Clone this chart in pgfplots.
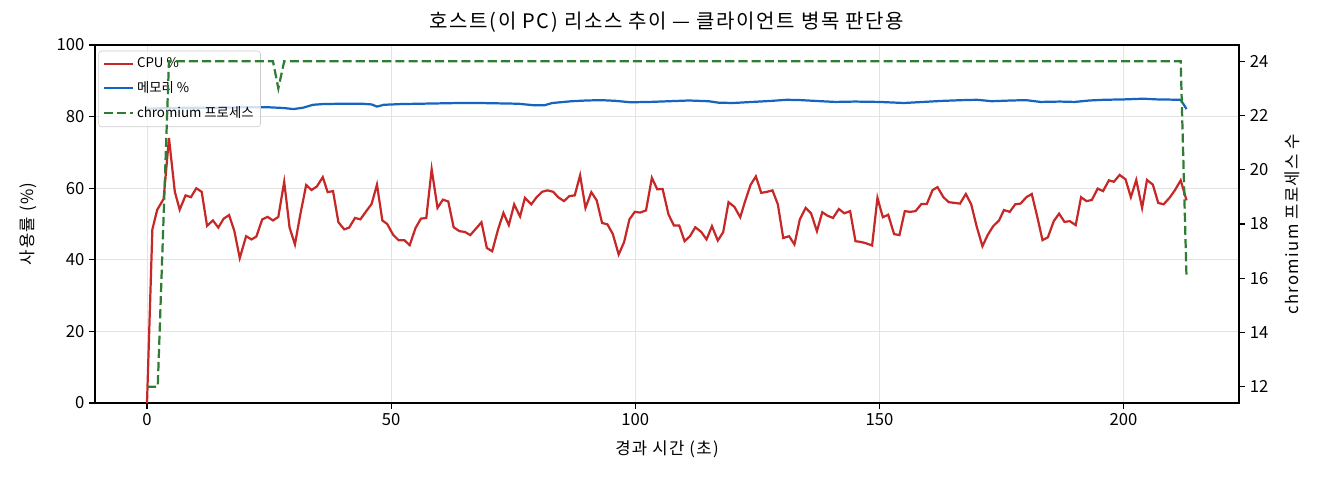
\documentclass[border=0pt]{standalone}
\usepackage{fontspec}
\setmainfont{Noto Sans CJK KR}
\usepackage{pgfplots}
\pgfplotsset{compat=1.18}

\definecolor{cpured}{HTML}{C62828}
\definecolor{memblue}{HTML}{1565C0}
\definecolor{procgreen}{HTML}{2E7D32}

\newcommand\wide{\addfontfeature{LetterSpace=8}}

% 1 px of the reference = 0.72pt ; axis box 1144 x 358 px
\pgfplotsset{
  base/.style={
    scale only axis,
    width=823.7pt, height=257.8pt,
    xmin=-10.65, xmax=223.65,
    tick align=outside,
    major tick length=4.2pt,
    axis line style={line width=0.9pt},
    every tick/.style={line width=0.9pt, black},
    /pgf/number format/assume math mode=true,
    tick label style={font=\fontsize{12}{14}\selectfont},
    label style={font=\fontsize{12}{14}\selectfont\wide},
  }
}

\begin{document}
\begin{tikzpicture}
\useasboundingbox (-68.4pt,-55.44pt) rectangle (882.0pt,290.2pt);

\begin{axis}[
  base,
  ymin=0, ymax=100,
  xtick={0,50,100,150,200},
  ytick={0,20,40,60,80,100},
  xtick pos=bottom, ytick pos=left,
  grid=major,
  major grid style={line width=0.7pt, gray!22},
  title={호스트(이 PC) 리소스 추이 — 클라이언트 병목 판단용},
  title style={font=\fontsize{14.4}{16}\selectfont\wide, at={(0.5,1)},
    anchor=south, yshift=1pt, inner sep=2pt},
  xlabel={경과 시간 (초)},
  xlabel style={yshift=-4pt},
  ylabel={사용률 (\%)},
  ylabel style={at={(axis description cs:-0.0586,0.5)}, anchor=center},
  legend cell align=left,
  legend style={at={(0.003,0.984)}, anchor=north west,
    font=\fontsize{9.6}{11.5}\selectfont,
    draw=gray!40, rounded corners=2pt,
    fill=white, fill opacity=0.8, text opacity=1,
    row sep=4.5pt, inner sep=3pt},
  legend image code/.code={\draw[#1] (0pt,0pt) -- (21pt,0pt);},
]
\addplot[cpured, line width=1.6pt] coordinates {
(0,0) (1.1,48.5) (2.1,54) (3.4,57) (4.5,74) (5.7,59) (6.7,54) (7.9,58)
(9.0,57.5) (10.1,60) (11.2,59) (12.3,49.5) (13.5,51) (14.6,49) (15.7,51.5)
(16.8,52.5) (17.9,48) (19.0,40.5) (20.3,46.6) (21.4,45.7) (22.4,46.5)
(23.6,51.3) (24.7,52) (25.8,51) (26.9,52) (28.1,61.8) (29.2,49) (30.3,44.3)
(31.4,52.7) (32.6,60.9) (33.7,59.5) (34.8,60.5) (36.0,63.1) (37.0,58.9)
(38.1,59.2) (39.2,50.5) (40.4,48.5) (41.4,49) (42.6,51.7) (43.7,51.3)
(44.8,53.4) (46.0,55.6) (47.1,61) (48.2,51) (49.2,50) (50.4,47) (51.5,45.5)
(52.7,45.5) (53.8,44.1) (55.0,48.9) (56.1,51.5) (57.2,51.7) (58.3,65.3)
(59.5,54.5) (60.6,56.8) (61.7,56.3) (62.8,49.1) (64.0,48) (65.1,47.8)
(66.2,46.9) (67.3,48.6) (68.5,50.5) (69.6,43.3) (70.7,42.4) (71.9,48.5)
(73.0,53.1) (74.1,49.7) (75.2,55.5) (76.4,52.1) (77.4,57.3) (78.7,55.5)
(79.8,57.5) (80.9,59) (82.0,59.4) (83.2,59) (84.2,57.5) (85.4,56.4)
(86.5,57.8) (87.6,58) (88.7,63.6) (89.8,54.5) (91.0,58.9) (92.1,56.6)
(93.2,50.3) (94.3,49.9) (95.4,47.2) (96.6,41.5) (97.7,44.9) (98.8,51.3)
(99.9,53.4) (101.0,53.2) (102.2,53.8) (103.4,62.9) (104.5,59.7) (105.6,59.8)
(106.8,52.7) (107.9,49.6) (109.0,49.6) (110.1,45.2) (111.2,46.6) (112.3,49.1)
(113.5,47.8) (114.6,45.7) (115.7,49.4) (116.9,45.4) (118.0,47.7) (119.1,56.1)
(120.3,54.8) (121.5,51.9) (122.5,56.4) (123.6,60.9) (124.7,63.3) (125.8,58.7)
(127.0,59) (128.1,59.4) (129.2,55.5) (130.3,46.1) (131.5,46.6) (132.6,44.3)
(133.7,51.3) (134.9,54.5) (136.0,53) (137.2,48) (138.3,53.3) (139.4,52.3)
(140.5,51.7) (141.7,54.2) (142.8,53) (144.0,53.6) (145.1,45.2) (146.2,45)
(147.3,44.6) (148.5,44) (149.6,57.3) (150.7,51.9) (151.8,52.6) (153.0,47.2)
(154.1,46.9) (155.2,53.6) (156.3,53.4) (157.4,53.6) (158.6,55.6) (159.7,55.6)
(160.9,59.5) (161.9,60.3) (163.1,57.5) (164.2,56.1) (165.4,55.9) (166.5,55.7)
(167.7,58.4) (168.8,55.5) (169.9,49.4) (171.1,43.8) (172.2,47) (173.3,49.4)
(174.5,51) (175.5,53.9) (176.7,53.4) (177.8,55.5) (178.9,55.7) (180.1,57.5)
(181.2,58.4) (182.3,52.2) (183.4,45.5) (184.5,46.3) (185.7,50.8) (186.8,52.9)
(187.9,50.6) (189.0,50.8) (190.2,49.7) (191.3,57.5) (192.4,56.4) (193.5,56.7)
(194.7,59.9) (195.8,59.2) (197.0,62.2) (198.0,61.8) (199.2,63.7) (200.4,62.5)
(201.5,57.5) (202.6,62.3) (203.8,54.5) (204.8,62.3) (206.0,61) (207.1,55.9)
(208.2,55.5) (209.4,57.3) (210.5,59.4) (211.7,62.2) (212.9,56.6)
};
\addlegendentry{CPU \%}
\addplot[memblue, line width=1.6pt] coordinates {
(0,82.2) (5,82.4) (10,82.5) (15,82.5) (20,82.6) (25,82.6) (28,82.4) (30,82.1)
(32,82.5) (34,83.3) (36,83.5) (40,83.6) (44,83.6) (46,83.4) (47.1,82.8)
(48.5,83.3) (52,83.5) (56,83.6) (60,83.7) (64,83.8) (68,83.8) (72,83.7)
(76,83.6) (79,83.2) (81.5,83.2) (83,83.8) (87,84.3) (90,84.5) (93,84.6)
(96,84.4) (99,84.0) (103,84.1) (107,84.3) (111,84.5) (115,84.3) (117,83.9)
(120,83.8) (124,84.1) (128,84.4) (131,84.7) (134,84.6) (138,84.3) (141,84.1)
(145,84.2) (150,84.1) (155,83.8) (159,84.1) (163,84.4) (167,84.6) (170,84.7)
(173,84.3) (177,84.5) (180,84.6) (183,84.1) (187,84.2) (190,84.1) (193,84.5)
(196,84.7) (200,84.8) (204,85.0) (207,84.8) (211.7,84.7) (212.9,82.1)
};
\addlegendentry{메모리 \%}
\addlegendimage{procgreen, line width=1.6pt, dash pattern=on 6.6pt off 2.9pt}
\addlegendentry{chromium 프로세스}
\end{axis}

\begin{axis}[
  base,
  ymin=11.4, ymax=24.6,
  axis y line*=right,
  axis x line=none,
  ytick={12,14,16,18,20,22,24},
  ylabel={chromium 프로세스 수},
  ylabel style={at={(axis description cs:1.0463,0.5)}, anchor=center},
]
\addplot[procgreen, line width=1.6pt, dash pattern=on 6.6pt off 2.9pt] coordinates {
(0,12) (1.1,12) (2.2,12) (4.5,24) (25.8,24) (26.9,23) (28.1,24)
(211.7,24) (212.9,16)
};
\end{axis}
\end{tikzpicture}
\end{document}
